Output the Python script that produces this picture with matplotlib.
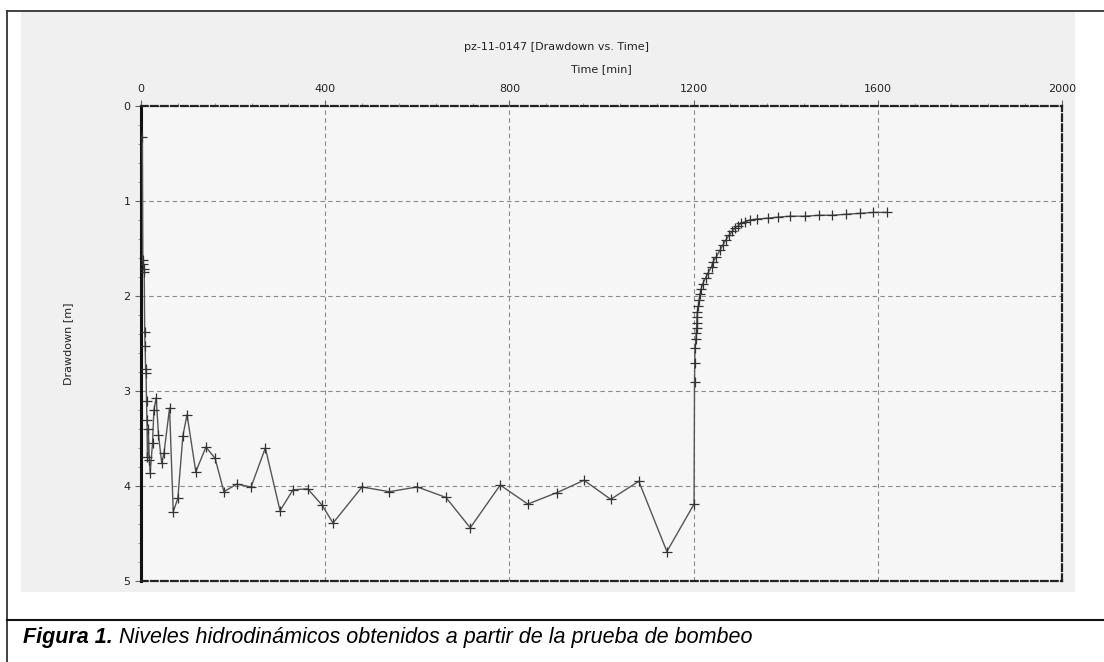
import matplotlib
matplotlib.use('Agg')
import matplotlib.pyplot as plt
from matplotlib.ticker import MultipleLocator
from matplotlib.patches import Rectangle
from matplotlib.lines import Line2D

# pumping phase then recovery, time in minutes, drawdown in metres
time_min = [3, 4, 5, 6, 7, 8, 9, 10, 11, 12, 13, 14, 16, 18, 20, 25, 28, 33,
            38, 45, 50, 62, 70, 80, 91, 100, 119, 141, 161, 180, 208, 239,
            270, 302, 330, 362, 393, 417, 480, 539, 600, 662, 715, 780, 840,
            903, 962, 1020, 1081, 1142, 1201,
            1202, 1202.5, 1203, 1205, 1206, 1206.5, 1207, 1207.5, 1208, 1210,
            1212, 1214, 1216, 1220, 1226, 1231, 1239, 1242, 1249, 1257, 1264,
            1270, 1277, 1284, 1290, 1297, 1304, 1312, 1322, 1338, 1362, 1383,
            1409, 1442, 1472, 1501, 1531, 1561, 1590, 1620]
drawdown_m = [0.33, 1.62, 1.66, 1.72, 1.75, 2.38, 2.53, 2.77, 2.81, 3.11, 3.31,
              3.69, 3.40, 3.73, 3.86, 3.55, 3.20, 3.07, 3.46, 3.76, 3.65, 3.18,
              4.27, 4.13, 3.47, 3.25, 3.85, 3.59, 3.71, 4.06, 3.98, 4.01, 3.60,
              4.26, 4.04, 4.03, 4.20, 4.39, 4.01, 4.06, 4.01, 4.12, 4.44, 3.99,
              4.19, 4.07, 3.94, 4.14, 3.95, 4.69, 4.19,
              2.91, 2.70, 2.55, 2.45, 2.39, 2.34, 2.28, 2.22, 2.17, 2.11, 2.04,
              1.98, 1.93, 1.87, 1.81, 1.76, 1.69, 1.64, 1.59, 1.52, 1.46, 1.41,
              1.36, 1.32, 1.28, 1.26, 1.23, 1.22, 1.20, 1.19, 1.18, 1.17, 1.16,
              1.16, 1.15, 1.15, 1.14, 1.13, 1.12, 1.12]

x_ticks = [0, 400, 800, 1200, 1600, 2000]
y_ticks = [0, 1, 2, 3, 4, 5]

title = 'pz-11-0147 [Drawdown vs. Time]'
caption_bold = 'Figura 1.'
caption_rest = ' Niveles hidrodinámicos obtenidos a partir de la prueba de bombeo'

plt.rcParams['font.family'] = 'DejaVu Sans'

fig = plt.figure(figsize=(11.04, 6.62), dpi=100)
fig.patch.set_facecolor('white')

W, H = 1104.0, 662.0
def fx(px):
    return px / W
def fy(py):
    return 1 - py / H

# grey panel behind chart
fig.patches.append(Rectangle((fx(21), fy(592)), fx(1075) - fx(21), fy(12) - fy(592),
                             transform=fig.transFigure, facecolor='#f0f0f0',
                             edgecolor='none', zorder=-5))
# outer frame lines
fig.lines.append(Line2D([fx(7), 1], [fy(11), fy(11)], transform=fig.transFigure,
                        color='#333333', lw=1.3))
fig.lines.append(Line2D([fx(7), fx(7)], [fy(11), 0], transform=fig.transFigure,
                        color='#333333', lw=1.3))
fig.lines.append(Line2D([fx(7), 1], [fy(620), fy(620)], transform=fig.transFigure,
                        color='#111111', lw=1.5))

ax = fig.add_axes([fx(141), fy(581), fx(1062) - fx(141), fy(106) - fy(581)])
ax.set_zorder(2)
ax.set_facecolor('#f6f6f6')

ax.plot(time_min, drawdown_m, color='#555555', lw=1.0, marker='+',
        markersize=7.5, markeredgecolor='#333333', markeredgewidth=0.9, zorder=3)

ax.set_xlim(0, 2000)
ax.set_ylim(5, 0)
ax.set_xticks(x_ticks)
ax.set_yticks(y_ticks)
ax.xaxis.set_minor_locator(MultipleLocator(80))
ax.yaxis.set_minor_locator(MultipleLocator(0.2))
ax.xaxis.tick_top()
ax.xaxis.set_label_position('top')
ax.tick_params(which='major', length=4, width=0.8, colors='#666666',
               labelcolor='#222222', labelsize=8)
ax.tick_params(which='minor', length=2, width=0.6, colors='#888888')
ax.tick_params(axis='x', pad=5)

ax.grid(True, which='major', color='#8a8a8a', linestyle=(0, (4, 3)), lw=0.8)

for side in ['top', 'right', 'bottom']:
    ax.spines[side].set_linestyle((0, (3, 1.5)))
    ax.spines[side].set_linewidth(1.6)
    ax.spines[side].set_color('#222222')
ax.spines['left'].set_linewidth(2.2)
ax.spines['left'].set_color('#111111')

ax.set_xlabel('Time [min]', fontsize=8, color='#222222', labelpad=8)
ax.set_ylabel('Drawdown [m]', fontsize=8, color='#222222', labelpad=36)
fig.text(fx(557), fy(47), title, fontsize=8, color='#222222',
         ha='center', va='center')

# caption: bold-italic part followed by italic part
cap_font = ['Liberation Sans', 'DejaVu Sans']
t1 = fig.text(fx(23), fy(643), caption_bold, fontsize=15.5, fontweight='bold',
              fontstyle='italic', family=cap_font, va='baseline')
fig.canvas.draw()
bb = t1.get_window_extent()
fig.text(bb.x1 / fig.dpi / fig.get_figwidth(), fy(643), caption_rest,
         fontsize=15.5, fontstyle='italic', family=cap_font, va='baseline')

fig.savefig('out.png', dpi=100)
